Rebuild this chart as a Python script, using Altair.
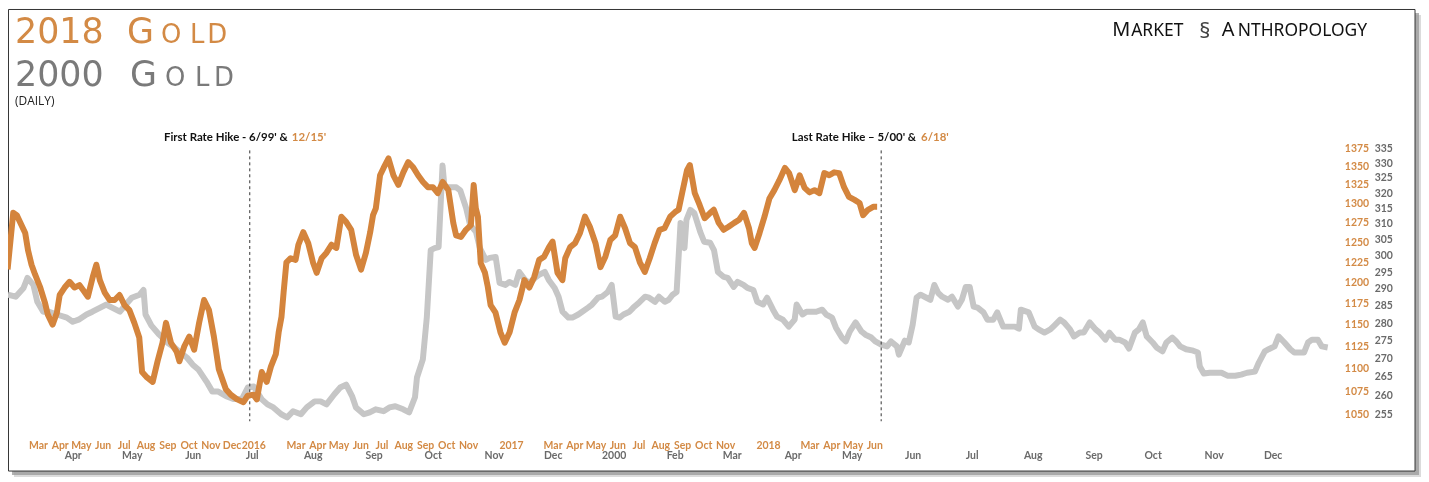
import altair as alt
import pandas as pd

# ---------------- data ----------------
gold2018_dates = [
    "2015-01-17", "2015-01-25", "2015-01-30", "2015-02-11", "2015-02-15", "2015-02-20", "2015-02-25",
    "2015-03-04", "2015-03-11", "2015-03-15", "2015-03-22", "2015-03-28", "2015-04-01", "2015-04-08",
    "2015-04-15", "2015-04-22", "2015-04-29", "2015-05-06", "2015-05-11", "2015-05-18", "2015-05-23",
    "2015-05-28", "2015-06-04", "2015-06-11", "2015-06-18", "2015-06-25", "2015-07-02", "2015-07-09",
    "2015-07-16", "2015-07-23", "2015-07-27", "2015-08-03", "2015-08-11", "2015-08-18", "2015-08-25",
    "2015-08-30", "2015-09-06", "2015-09-14", "2015-09-18", "2015-09-25", "2015-10-02", "2015-10-09",
    "2015-10-16", "2015-10-23", "2015-10-30", "2015-11-06", "2015-11-13", "2015-11-23", "2015-11-30",
    "2015-12-09", "2015-12-18", "2015-12-24",
    "2016-01-01", "2016-01-06", "2016-01-13", "2016-01-20", "2016-01-26", "2016-02-02", "2016-02-06",
    "2016-02-10", "2016-02-13", "2016-02-17", "2016-02-23", "2016-03-01", "2016-03-05", "2016-03-12",
    "2016-03-19", "2016-03-26", "2016-03-31", "2016-04-07", "2016-04-14", "2016-04-21", "2016-04-28",
    "2016-05-05", "2016-05-12", "2016-05-19", "2016-05-26", "2016-06-02", "2016-06-09", "2016-06-15",
    "2016-06-19", "2016-06-23", "2016-06-29", "2016-07-04", "2016-07-11", "2016-07-18", "2016-07-25",
    "2016-08-01", "2016-08-08", "2016-08-15", "2016-08-22", "2016-08-29", "2016-09-05", "2016-09-12",
    "2016-09-19", "2016-09-26", "2016-10-04", "2016-10-11", "2016-10-15", "2016-10-22", "2016-10-29",
    "2016-11-05", "2016-11-09", "2016-11-12", "2016-11-15", "2016-11-19", "2016-11-25", "2016-11-29",
    "2016-12-03", "2016-12-10", "2016-12-17", "2016-12-23", "2016-12-30",
    "2017-01-06", "2017-01-13", "2017-01-20", "2017-01-27", "2017-02-03", "2017-02-10", "2017-02-17",
    "2017-02-24", "2017-03-01", "2017-03-08", "2017-03-15", "2017-03-19", "2017-03-26", "2017-04-02",
    "2017-04-09", "2017-04-16", "2017-04-23", "2017-05-01", "2017-05-08", "2017-05-15", "2017-05-22",
    "2017-05-29", "2017-06-05", "2017-06-12", "2017-06-19", "2017-06-26", "2017-07-03", "2017-07-10",
    "2017-07-17", "2017-07-24", "2017-07-31", "2017-08-07", "2017-08-15", "2017-08-22", "2017-08-27",
    "2017-09-01", "2017-09-08", "2017-09-12", "2017-09-19", "2017-09-26", "2017-10-03", "2017-10-11",
    "2017-10-16", "2017-10-23", "2017-10-30", "2017-11-06", "2017-11-14", "2017-11-21", "2017-11-28",
    "2017-12-05", "2017-12-09", "2017-12-13", "2017-12-20", "2017-12-27",
    "2018-01-03", "2018-01-10", "2018-01-17", "2018-01-25", "2018-01-31", "2018-02-08", "2018-02-15",
    "2018-02-22", "2018-03-01", "2018-03-08", "2018-03-15", "2018-03-22", "2018-03-29", "2018-04-05",
    "2018-04-12", "2018-04-19", "2018-04-26", "2018-05-04", "2018-05-11", "2018-05-16", "2018-05-23",
    "2018-05-31", "2018-06-05",
]
gold2018_price = [
    1216, 1288, 1285, 1262, 1240, 1222, 1210,
    1195, 1176, 1162, 1150, 1164, 1185, 1194,
    1201, 1194, 1197, 1189, 1183, 1207, 1222,
    1203, 1188, 1179, 1179, 1185, 1173, 1167,
    1152, 1135, 1096, 1090, 1085, 1108, 1129,
    1152, 1129, 1119, 1108, 1125, 1136, 1121,
    1152, 1179, 1167, 1136, 1099, 1077, 1071,
    1066, 1063, 1070,
    1071, 1066, 1096, 1085, 1102, 1116, 1141,
    1159, 1188, 1225, 1230, 1228, 1247, 1263,
    1249, 1224, 1212, 1230, 1237, 1247, 1243,
    1283, 1276, 1266, 1234, 1216, 1237, 1263,
    1285, 1294, 1338, 1348, 1361, 1338, 1325,
    1342, 1356, 1349, 1338, 1329, 1322, 1322,
    1314, 1329, 1318, 1275, 1259, 1257, 1266,
    1272, 1325, 1294, 1283, 1224, 1212, 1195,
    1173, 1164, 1141, 1129, 1141,
    1164, 1179, 1203, 1194, 1207, 1228, 1232,
    1244, 1251, 1212, 1203, 1230, 1244, 1249,
    1262, 1283, 1270, 1249, 1219, 1232, 1253,
    1259, 1283, 1268, 1249, 1244, 1225, 1213,
    1230, 1249, 1266, 1268, 1283, 1289, 1292,
    1314, 1345, 1352, 1314, 1298, 1281, 1288,
    1292, 1275, 1266, 1270, 1275, 1279, 1288,
    1268, 1249, 1243, 1262, 1283,
    1307, 1318, 1331, 1348, 1341, 1318, 1338,
    1321, 1315, 1318, 1314, 1341, 1338, 1342,
    1341, 1322, 1309, 1305, 1301, 1285, 1292,
    1296, 1296,
]

gold2000_dates = [
    "1999-02-27", "1999-03-03", "1999-03-07", "1999-03-09", "1999-03-12", "1999-03-14", "1999-03-17",
    "1999-03-20", "1999-03-24", "1999-03-29", "1999-04-01", "1999-04-04", "1999-04-08", "1999-04-11",
    "1999-04-15", "1999-04-18", "1999-04-21", "1999-04-25", "1999-04-28", "1999-05-01", "1999-05-05",
    "1999-05-07", "1999-05-08", "1999-05-11", "1999-05-15", "1999-05-19", "1999-05-22", "1999-05-25",
    "1999-05-29", "1999-06-01", "1999-06-04", "1999-06-08", "1999-06-11", "1999-06-14", "1999-06-18",
    "1999-06-22", "1999-06-26", "1999-06-29", "1999-07-02", "1999-07-06", "1999-07-09", "1999-07-12",
    "1999-07-16", "1999-07-19", "1999-07-22", "1999-07-26", "1999-07-29", "1999-08-02", "1999-08-05",
    "1999-08-08", "1999-08-12", "1999-08-15", "1999-08-18", "1999-08-21", "1999-08-23", "1999-08-27",
    "1999-08-30", "1999-09-02", "1999-09-06", "1999-09-09", "1999-09-12", "1999-09-16", "1999-09-19",
    "1999-09-22", "1999-09-23", "1999-09-26", "1999-09-28", "1999-09-30", "1999-10-02", "1999-10-04",
    "1999-10-06", "1999-10-07", "1999-10-11", "1999-10-13", "1999-10-15", "1999-10-18", "1999-10-20",
    "1999-10-23", "1999-10-25", "1999-10-28", "1999-10-30", "1999-11-02", "1999-11-04", "1999-11-07",
    "1999-11-09", "1999-11-12", "1999-11-14", "1999-11-17", "1999-11-19", "1999-11-22", "1999-11-24",
    "1999-11-27", "1999-11-29", "1999-12-02", "1999-12-04", "1999-12-06", "1999-12-09", "1999-12-11",
    "1999-12-14", "1999-12-16", "1999-12-19", "1999-12-21", "1999-12-24", "1999-12-26", "1999-12-29",
    "1999-12-31",
    "2000-01-02", "2000-01-04", "2000-01-06", "2000-01-09", "2000-01-11", "2000-01-14", "2000-01-17",
    "2000-01-19", "2000-01-22", "2000-01-24", "2000-01-27", "2000-01-29", "2000-01-31", "2000-02-02",
    "2000-02-04", "2000-02-06", "2000-02-07", "2000-02-09", "2000-02-11", "2000-02-14", "2000-02-16",
    "2000-02-19", "2000-02-21", "2000-02-23", "2000-02-26", "2000-02-28", "2000-03-02", "2000-03-04",
    "2000-03-07", "2000-03-09", "2000-03-12", "2000-03-14", "2000-03-17", "2000-03-19", "2000-03-22",
    "2000-03-24", "2000-03-27", "2000-03-30", "2000-04-02", "2000-04-03", "2000-04-06", "2000-04-08",
    "2000-04-11", "2000-04-13", "2000-04-16", "2000-04-18", "2000-04-21", "2000-04-23", "2000-04-26",
    "2000-04-28", "2000-04-30", "2000-05-03", "2000-05-06", "2000-05-08", "2000-05-11", "2000-05-13",
    "2000-05-16", "2000-05-19", "2000-05-21", "2000-05-24", "2000-05-25", "2000-05-28", "2000-05-30",
    "2000-06-01", "2000-06-03", "2000-06-05", "2000-06-08", "2000-06-10", "2000-06-12", "2000-06-14",
    "2000-06-16", "2000-06-19", "2000-06-21", "2000-06-24", "2000-06-26", "2000-06-28", "2000-06-30",
    "2000-07-02", "2000-07-04", "2000-07-07", "2000-07-09", "2000-07-12", "2000-07-14", "2000-07-17",
    "2000-07-19", "2000-07-23", "2000-07-25", "2000-07-26", "2000-07-30", "2000-08-02", "2000-08-04",
    "2000-08-07", "2000-08-10", "2000-08-12", "2000-08-15", "2000-08-17", "2000-08-20", "2000-08-22",
    "2000-08-25", "2000-08-27", "2000-08-30", "2000-09-02", "2000-09-04", "2000-09-07", "2000-09-09",
    "2000-09-12", "2000-09-14", "2000-09-17", "2000-09-19", "2000-09-22", "2000-09-24", "2000-09-26",
    "2000-09-28", "2000-10-01", "2000-10-03", "2000-10-06", "2000-10-08", "2000-10-11", "2000-10-13",
    "2000-10-15", "2000-10-18", "2000-10-21", "2000-10-24", "2000-10-25", "2000-10-27", "2000-10-30",
    "2000-11-02", "2000-11-05", "2000-11-08", "2000-11-12", "2000-11-15", "2000-11-18", "2000-11-22",
    "2000-11-24", "2000-11-27", "2000-11-29", "2000-12-02", "2000-12-04", "2000-12-07", "2000-12-10",
    "2000-12-12", "2000-12-15", "2000-12-17", "2000-12-19", "2000-12-21", "2000-12-24", "2000-12-26",
    "2000-12-29",
]
gold2000_price = [
    288.3, 287.7, 290.3, 293.3, 291.2, 286.2, 283.3,
    283.3, 282.5, 281.6, 280.4, 281.0, 282.5, 283.3,
    284.5, 285.4, 284.5, 283.3, 285.4, 287.4, 288.3,
    289.7, 282.5, 279.3, 276.7, 274.5, 273.4, 272.0,
    270.3, 268.3, 266.9, 263.7, 261.0, 261.0, 259.8,
    259.0, 259.0, 262.1, 262.4, 259.0, 257.6, 256.8,
    255.0, 254.2, 255.8, 255.0, 256.8, 258.4, 258.4,
    257.6, 260.3, 262.1, 262.9, 259.8, 256.8, 255.0,
    255.5, 256.3, 255.8, 256.8, 257.1, 256.3, 255.5,
    259.5, 264.8, 269.8, 281.6, 301.8, 302.4, 302.7,
    329.2, 321.9, 321.9, 321.9, 320.9, 315.1, 309.7,
    307.5, 302.4, 298.8, 299.4, 299.7, 291.8, 291.2,
    292.1, 291.2, 295.1, 292.7, 291.8, 293.3, 294.2,
    295.1, 292.7, 290.3, 287.7, 283.3, 281.6, 281.6,
    282.5, 283.3, 284.5, 285.4, 287.4, 287.7, 289.1,
    291.2,
    281.9, 281.6, 282.5, 283.3, 284.5, 286.0, 287.7,
    287.4, 286.2, 287.7, 286.2, 286.8, 288.3, 289.1,
    310.3, 302.4, 311.3, 314.5, 313.5, 307.5, 304.4,
    304.1, 301.8, 295.1, 293.6, 293.3, 290.6, 292.1,
    291.2, 290.3, 289.7, 286.2, 285.4, 287.4, 283.9,
    281.9, 281.0, 279.0, 281.0, 285.4, 282.5, 283.3,
    283.3, 283.3, 283.9, 282.5, 281.6, 278.7, 275.9,
    274.8, 277.6, 280.2, 277.6, 276.7, 275.9, 274.8,
    273.9, 273.4, 274.8, 273.4, 271.1, 275.0, 274.5,
    279.5, 287.4, 288.3, 287.4, 286.8, 291.2, 288.8,
    287.7, 286.8, 287.7, 284.8, 286.8, 290.6, 290.6,
    284.8, 284.5, 283.1, 281.0, 281.0, 283.1, 279.0,
    279.0, 279.0, 278.4, 283.9, 283.1, 279.0, 278.2,
    277.3, 278.2, 279.3, 281.0, 280.2, 278.2, 276.2,
    277.3, 277.3, 280.2, 278.2, 277.3, 275.3, 277.3,
    275.3, 275.3, 274.5, 272.8, 277.3, 278.2, 280.2,
    276.2, 274.5, 273.1, 272.0, 274.5, 275.9, 274.8,
    273.4, 272.6, 272.3, 271.7, 267.8, 265.9, 266.1,
    266.1, 266.1, 265.3, 265.3, 265.6, 266.1, 266.4,
    268.9, 272.0, 272.6, 273.4, 276.2, 274.5, 272.6,
    271.7, 271.7, 271.7, 274.5, 275.3, 275.3, 273.4,
    273.1,
]

rate_hike_dates_2000 = ["1999-06-30", "2000-05-16"]

ticks_2018_months = [
    "2015-03-01", "2015-04-01", "2015-05-01", "2015-06-01", "2015-07-01", "2015-08-01", "2015-09-01",
    "2015-10-01", "2015-11-01", "2015-12-01", "2016-01-01", "2016-03-01", "2016-04-01", "2016-05-01",
    "2016-06-01", "2016-07-01", "2016-08-01", "2016-09-01", "2016-10-01", "2016-11-01", "2017-01-01",
    "2017-03-01", "2017-04-01", "2017-05-01", "2017-06-01", "2017-07-01", "2017-08-01", "2017-09-01",
    "2017-10-01", "2017-11-01", "2018-01-01", "2018-03-01", "2018-04-01", "2018-05-01", "2018-06-01",
]
ticks_2000_months = [
    "1999-04-01", "1999-05-01", "1999-06-01", "1999-07-01", "1999-08-01", "1999-09-01", "1999-10-01",
    "1999-11-01", "1999-12-01", "2000-01-01", "2000-02-01", "2000-03-01", "2000-04-01", "2000-05-01",
    "2000-06-01", "2000-07-01", "2000-08-01", "2000-09-01", "2000-10-01", "2000-11-01", "2000-12-01",
]
ticks_2018_price = [1050, 1075, 1100, 1125, 1150, 1175, 1200, 1225, 1250, 1275, 1300, 1325, 1350, 1375]
ticks_2000_price = [255, 260, 265, 270, 275, 280, 285, 290, 295, 300, 305, 310, 315, 320, 325, 330, 335]

# ---------------- styling ----------------
ORANGE = "#d4843c"
ORANGE_TXT = "#d38a45"
GRAY = "#c6c6c6"
GRAY_TXT = "#7a7a7a"
GRAY_AXIS = "#6a6a6a"
LABEL_FONT = "Lato"
TITLE_FONT = "DejaVu Sans"


def ms(d):
    return int(pd.Timestamp(d, tz="UTC").value // 10**6)


MONTH_LABEL = ("utcFormat(datum.value, '%m') == '01' ? utcFormat(datum.value, '%Y') "
               ": utcFormat(datum.value, '%b')")

x18_scale = alt.Scale(type="utc", domain=[ms("2015-03-01"), ms("2018-06-01")], range=[30, 870])
x00_scale = alt.Scale(type="utc", domain=[ms("1999-04-01"), ms("2000-12-01")], range=[65, 1270])
y18_scale = alt.Scale(type="log", domain=[1050, 1375], range=[407, 140], nice=False)
y00_scale = alt.Scale(type="log", domain=[255, 335], range=[407, 140], nice=False)


def xaxis(values, color, pad):
    return alt.Axis(orient="bottom", values=[ms(v) for v in values], labelExpr=MONTH_LABEL,
                    domain=False, ticks=False, tickSize=0, grid=False, title="", zindex=5,
                    labelFont=LABEL_FONT, labelFontWeight="bold", labelFontSize=10.5,
                    labelColor=color, labelPadding=pad, labelOverlap=False, labelFlush=False,
                    labelBound=False)


def yaxis(values, color, offset):
    return alt.Axis(orient="right", values=values, format="d", domain=False, ticks=False, tickSize=0,
                    grid=False, title="", offset=offset, zindex=5, labelFont=LABEL_FONT,
                    labelFontWeight="bold", labelFontSize=10.5, labelColor=color, labelPadding=12,
                    labelAlign="left", labelOverlap=False)


df18 = pd.DataFrame({"date": gold2018_dates, "price": gold2018_price})
df00 = pd.DataFrame({"date": gold2000_dates, "price": gold2000_price})
dfr = pd.DataFrame({"date": rate_hike_dates_2000})
one = pd.DataFrame({"k": [0]})

shadow1 = alt.Chart(one).mark_rect(fill="#555555", opacity=0.45).encode(
    x=alt.value(4), x2=alt.value(1417), y=alt.value(4), y2=alt.value(468))
shadow2 = alt.Chart(one).mark_rect(fill="#999999", opacity=0.35).encode(
    x=alt.value(6), x2=alt.value(1419), y=alt.value(6), y2=alt.value(470))
frame = alt.Chart(one).mark_rect(fill="white", stroke="#333333", strokeWidth=1).encode(
    x=alt.value(0.5), x2=alt.value(1413), y=alt.value(0.5), y2=alt.value(464))

gray_line = alt.Chart(df00).mark_line(color=GRAY, strokeWidth=6, clip=True, strokeJoin="round").encode(
    x=alt.X("date:T", scale=x00_scale, axis=xaxis(ticks_2000_months, GRAY_AXIS, 26)),
    y=alt.Y("price:Q", scale=y00_scale, axis=yaxis(ticks_2000_price, GRAY_AXIS, 30)),
)

orange_line = alt.Chart(df18).mark_line(color=ORANGE, strokeWidth=6, clip=True, strokeJoin="round",
                                        blend="multiply").encode(
    x=alt.X("date:T", scale=x18_scale, axis=xaxis(ticks_2018_months, ORANGE_TXT, 16)),
    y=alt.Y("price:Q", scale=y18_scale, axis=yaxis(ticks_2018_price, ORANGE_TXT, 0)),
)

rules = alt.Chart(dfr).mark_rule(color="#333333", strokeWidth=1, strokeDash=[3, 3]).encode(
    x=alt.X("date:T", scale=x00_scale, axis=None),
    y=alt.value(142), y2=alt.value(414),
)


def txt(s, x, y, size, color, font="Open Sans", weight="normal", align="left"):
    return alt.Chart(pd.DataFrame({"t": [s]})).mark_text(
        align=align, baseline="alphabetic", font=font, fontSize=size, fontWeight=weight, color=color
    ).encode(x=alt.value(x), y=alt.value(y), text="t:N")


texts = []
# "2018 GOLD" (small caps)
texts.append(txt("2018", 7, 34, 35, ORANGE_TXT, font=TITLE_FONT))
for ch, x, size in [("G", 133, 35), ("O", 164, 26), ("L", 190, 26), ("D", 210, 26)]:
    texts.append(txt(ch, x, 34, size, ORANGE_TXT, font=TITLE_FONT, align="center"))
# "2000 GOLD"
texts.append(txt("2000", 7, 77, 35, GRAY_TXT, font=TITLE_FONT))
for ch, x, size in [("G", 136, 35), ("O", 168, 26), ("L", 195, 26), ("D", 217, 26)]:
    texts.append(txt(ch, x, 77, size, GRAY_TXT, font=TITLE_FONT, align="center"))
# "(DAILY)"
texts.append(txt("(DAILY)", 7, 96, 12, "#222222"))
# "MARKET ANTHROPOLOGY"
texts.append(txt("M", 1109, 27, 20, "#111111", font="Noto Sans"))
texts.append(txt("ARKET", 1128, 27, 17.5, "#111111", font="Noto Sans"))
texts.append(txt("§", 1202, 29, 22, "#444444", font="Noto Sans", align="center"))
texts.append(txt("A", 1219, 27, 20, "#111111", font="Noto Sans"))
texts.append(txt("NTHROPOLOGY", 1235, 27, 17.5, "#111111", font="Noto Sans"))
# rate hike annotations
texts.append(txt("First Rate Hike - 6/99' &", 281, 133, 11.5, "#111111", font=LABEL_FONT, weight="bold",
                 align="right"))
texts.append(txt("12/15'", 285, 133, 11.5, ORANGE_TXT, font=LABEL_FONT, weight="bold"))
texts.append(txt("Last Rate Hike \u2013 5/00' &", 912, 133, 11.5, "#111111", font=LABEL_FONT, weight="bold",
                 align="right"))
texts.append(txt("6/18'", 917, 133, 11.5, ORANGE_TXT, font=LABEL_FONT, weight="bold"))

chart = alt.layer(
    shadow1, shadow2, frame, gray_line, rules, orange_line, *texts
).resolve_scale(
    x="independent", y="independent"
).properties(
    width=1330, height=417, padding=0, background="white"
).configure_view(strokeWidth=0)

chart.save("out.html", embed_options={"renderer": "svg", "actions": False})
